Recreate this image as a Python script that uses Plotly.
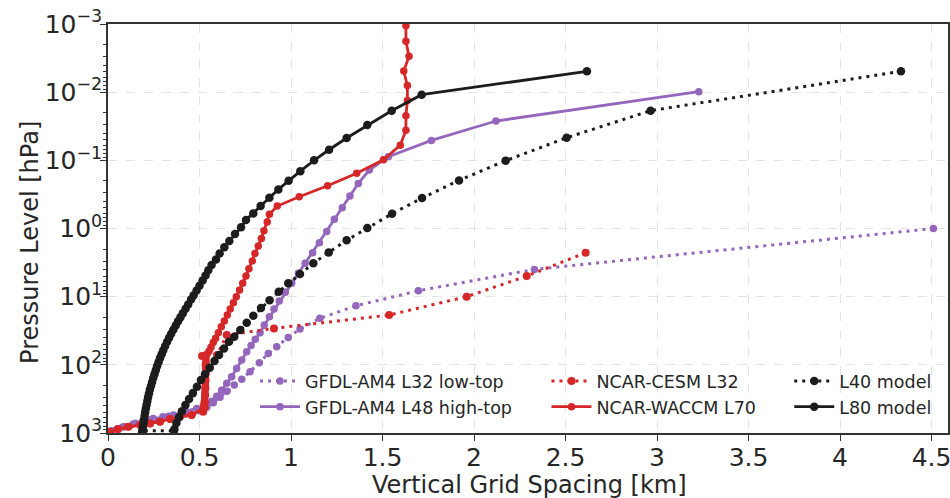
import plotly.graph_objects as go

# ---------------- data (km, hPa) ----------------
gfdl_l32_x = [4.510, 2.330, 1.696, 1.355, 1.158, 1.049, 0.985, 0.922, 0.876, 0.827, 0.776, 0.731,
              0.690, 0.650, 0.612, 0.575, 0.540, 0.500, 0.420, 0.330, 0.240, 0.150, 0.080, 0.020]
gfdl_l32_p = [1.0, 3.98, 8.19, 13.6, 20.8, 29.9, 39.6, 54.3, 68, 93, 126, 163,
              198, 245, 300, 360, 420, 470, 520, 570, 630, 720, 820, 930]

gfdl_l48_x = [3.228, 2.120, 1.767, 1.532, 1.428, 1.368, 1.322, 1.280, 1.237, 1.195, 1.155, 1.118,
              1.077, 1.040, 1.004, 0.969, 0.936, 0.907, 0.882, 0.854, 0.831, 0.805, 0.782, 0.758,
              0.731, 0.703, 0.676, 0.649, 0.621, 0.594, 0.567, 0.530, 0.485, 0.420, 0.357, 0.300,
              0.248, 0.190, 0.138, 0.090, 0.050, 0.011]
gfdl_l48_p = [0.00984, 0.0265, 0.051, 0.0885, 0.139, 0.218, 0.334, 0.496, 0.734, 1.11, 1.62, 2.27,
              3.24, 4.55, 6.38, 8.65, 11.6, 15.2, 19.7, 26.1, 33.9, 42, 52, 64.3,
              85, 113, 150, 187, 235, 288, 341, 403, 436, 480, 546, 580,
              611, 665, 740, 810, 875, 940]

cesm_l32_x = [2.610, 2.288, 1.960, 1.536, 0.907, 0.649, 0.596, 0.514, 0.534, 0.534, 0.533, 0.532,
              0.531, 0.530, 0.528, 0.520, 0.457, 0.393, 0.339, 0.284, 0.230, 0.175, 0.111, 0.055, 0.011]
cesm_l32_p = [2.27, 4.99, 10.0, 18.6, 29.2, 36.5, 72, 74, 100, 130, 170, 220,
              280, 350, 420, 489, 546, 578, 625, 685, 725, 766, 811, 877, 960]

waccm_l70_x = [1.628, 1.628, 1.645, 1.616, 1.636, 1.636, 1.628, 1.628, 1.597, 1.505, 1.359, 1.200,
               1.045, 0.925, 0.882, 0.870, 0.852, 0.838, 0.821, 0.803, 0.789, 0.770, 0.754, 0.736,
               0.719, 0.701, 0.685, 0.668, 0.652, 0.636, 0.619, 0.603, 0.588, 0.575, 0.563, 0.552,
               0.540, 0.535, 0.535, 0.535, 0.534, 0.534, 0.534, 0.533, 0.533, 0.532, 0.532, 0.531,
               0.530, 0.529, 0.528, 0.526, 0.523, 0.520, 0.457, 0.393, 0.339, 0.284, 0.230, 0.175,
               0.111, 0.055, 0.011]
waccm_l70_p = [0.00106, 0.00179, 0.00298, 0.0049, 0.0080, 0.0133, 0.0221, 0.0363, 0.060, 0.098, 0.155, 0.236,
               0.342, 0.469, 0.62, 0.80, 1.08, 1.40, 1.81, 2.32, 3.0, 3.89, 4.99, 6.38,
               8.0, 10.0, 12.3, 15.2, 18.6, 22.8, 27.6, 33.9, 40.9, 47, 55, 63,
               70, 75, 82, 90, 101, 113, 127, 142, 159, 178, 199, 223,
               250, 280, 313, 350, 392, 438, 546, 578, 625, 685, 725, 766,
               811, 877, 960]

l40_x = [4.333, 2.965, 2.506, 2.173, 1.918, 1.716, 1.552, 1.417, 1.304, 1.206, 1.122, 1.049,
         0.985, 0.933, 0.883, 0.836, 0.794, 0.758, 0.723, 0.690, 0.661, 0.634, 0.607, 0.582,
         0.556, 0.530, 0.508, 0.486, 0.464, 0.443, 0.423, 0.404, 0.388, 0.374, 0.363, 0.360, 0.190]
l40_p = [0.00494, 0.0187, 0.0466, 0.101, 0.197, 0.357, 0.607, 0.98, 1.49, 2.24, 3.24, 4.66,
         6.38, 8.47, 11.3, 14.7, 19.1, 24.2, 30.9, 38.7, 45.9, 57.4, 72, 88,
         110, 137, 167, 209, 260, 318, 390, 478, 585, 716, 877, 930, 930]

l80_x = [2.617, 1.714, 1.550, 1.417, 1.304, 1.208, 1.126, 1.051, 0.987, 0.931, 0.882, 0.834,
         0.794, 0.754, 0.727, 0.694, 0.663, 0.636, 0.610, 0.590, 0.566, 0.548, 0.533, 0.517,
         0.500, 0.484, 0.468, 0.454, 0.438, 0.424, 0.409, 0.396, 0.383, 0.370, 0.357, 0.345,
         0.334, 0.323, 0.312, 0.302, 0.293, 0.284, 0.276, 0.268, 0.261, 0.254, 0.247, 0.241,
         0.235, 0.229, 0.224, 0.219, 0.215, 0.211, 0.207, 0.203, 0.200, 0.197, 0.194, 0.191,
         0.188, 0.186]
l80_p = [0.00494, 0.0109, 0.0187, 0.0303, 0.047, 0.070, 0.100, 0.144, 0.199, 0.267, 0.354, 0.469,
         0.60, 0.75, 0.96, 1.2, 1.53, 1.89, 2.32, 2.84, 3.44, 4.11, 4.9, 5.8,
         6.9, 8.1, 9.5, 11, 13, 15, 17.5, 20, 23, 26.5, 30.5, 35,
         40, 46, 53, 61, 70, 80, 92, 105, 120, 137, 156, 178,
         203, 231, 263, 299, 340, 386, 438, 497, 563, 638, 722, 817,
         924, 995]

x_ticks = [0, 0.5, 1, 1.5, 2, 2.5, 3, 3.5, 4, 4.5]
x_tick_labels = ["0", "0.5", "1", "1.5", "2", "2.5", "3", "3.5", "4", "4.5"]
y_ticks = [1e-3, 1e-2, 1e-1, 1e0, 1e1, 1e2, 1e3]
y_tick_labels = ["10<sup>\u22123</sup>", "10<sup>\u22122</sup>", "10<sup>\u22121</sup>",
                 "10<sup>0</sup>", "10<sup>1</sup>", "10<sup>2</sup>", "10<sup>3</sup>"]
x_title = "Vertical Grid Spacing [km]"
y_title = "Pressure Level [hPa]"

PURPLE = "#9467bd"
RED = "#d62728"
BLACK = "#1c1c1c"
DOT = "3px,5px"

series = [
    ("GFDL-AM4 L32 low-top", gfdl_l32_x, gfdl_l32_p, PURPLE, DOT, "legend", 7.5),
    ("GFDL-AM4 L48 high-top", gfdl_l48_x, gfdl_l48_p, PURPLE, "solid", "legend", 7.5),
    ("NCAR-CESM L32", cesm_l32_x, cesm_l32_p, RED, DOT, "legend2", 8),
    ("NCAR-WACCM L70", waccm_l70_x, waccm_l70_p, RED, "solid", "legend2", 7.5),
    ("L40 model", l40_x, l40_p, BLACK, DOT, "legend3", 8.5),
    ("L80 model", l80_x, l80_p, BLACK, "solid", "legend3", 8.5),
]

fig = go.Figure()
for i, (name, xs, ps, col, dash, leg, ms) in enumerate(series):
    fig.add_trace(go.Scatter(
        x=xs, y=ps, name=name, mode="lines+markers",
        line=dict(color=col, width=3 if dash != "solid" else 2.8, dash=dash),
        marker=dict(color=col, size=ms, symbol="circle"),
        legend=leg, legendgroup=f"g{i}", cliponaxis=True,
    ))

minor_vals = [m * 10 ** e for e in range(-3, 3) for m in range(2, 10)]

FONT = "DejaVu Sans"
TXT = "#262626"
legend_common = dict(
    bgcolor="rgba(0,0,0,0)", borderwidth=0, font=dict(family=FONT, size=17.5, color=TXT),
    yanchor="top", y=0.171, xanchor="left", itemwidth=40, tracegroupgap=0,
    traceorder="grouped",
)

fig.update_layout(
    width=950, height=498,
    margin=dict(l=108, r=2, t=24, b=65, autoexpand=False),
    paper_bgcolor="white", plot_bgcolor="white",
    font=dict(family=FONT, color=TXT),
    legend=dict(**legend_common, x=0.175),
    legend2=dict(**legend_common, x=0.522),
    legend3=dict(**legend_common, x=0.811),
    xaxis=dict(
        range=[0, 4.59], tickvals=x_ticks, ticktext=x_tick_labels,
        tickfont=dict(size=25, color=TXT), automargin=False, ticklabeloverflow="allow",
        ticks="outside", ticklen=6, tickwidth=1.3, tickcolor="#333333", ticklabelstandoff=-5,
        showline=True, linecolor="#333333", linewidth=1.5, mirror=True,
        showgrid=True, gridcolor="#e3e3e3", griddash="dash", gridwidth=1,
        zeroline=False,
    ),
    yaxis=dict(
        type="log", range=[3, -3], tickvals=y_ticks, ticktext=y_tick_labels,
        tickfont=dict(size=25, color=TXT), automargin=False, ticklabeloverflow="allow",
        ticks="outside", ticklen=6, tickwidth=1.3, tickcolor="#333333", ticklabelstandoff=-7,
        showline=True, linecolor="#333333", linewidth=1.5, mirror=True,
        showgrid=True, gridcolor="#e3e3e3", griddash="dash", gridwidth=1,
        zeroline=False,
        minor=dict(tickvals=minor_vals, ticks="outside", ticklen=3, tickwidth=1, tickcolor="#333333", showgrid=False),
    ),
    annotations=[
        dict(text=x_title, xref="paper", yref="paper", x=0.502, y=-0.127,
             xanchor="center", yanchor="middle", showarrow=False,
             font=dict(family=FONT, size=24, color=TXT)),
        dict(text=y_title, xref="paper", yref="paper", x=-0.093, y=0.467,
             xanchor="center", yanchor="middle", showarrow=False, textangle=-90,
             font=dict(family=FONT, size=24, color=TXT)),
    ],
)

fig.write_html("out.html", config={"displayModeBar": False},
               post_script="document.body.style.margin='0px';document.body.style.overflow='hidden';")
